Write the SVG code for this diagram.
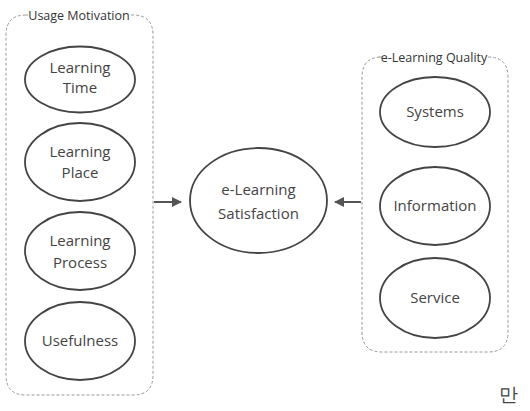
<svg xmlns="http://www.w3.org/2000/svg" width="530" height="411" viewBox="0 0 530 411">
  <defs>
    <marker id="arrow" viewBox="0 0 10 10" refX="9" refY="5" markerWidth="5" markerHeight="5" orient="auto">
      <path d="M0,0 L10,5 L0,10 z" fill="#555"/>
    </marker>
    <style>
      .group { fill: none; stroke: #9a9a9a; stroke-width: 1; stroke-dasharray: 3 2; }
      .node ellipse { fill: #fff; stroke: #444; stroke-width: 1.8; }
      text { font-family: "Open Sans", "Noto Sans", sans-serif; fill: #444; text-anchor: middle; }
      .label { font-size: 15px; }
      .title { font-size: 12.5px; fill: #333; }
      .edge { stroke: #555; stroke-width: 2; fill: none; marker-end: url(#arrow); }
    </style>
  </defs>
  <rect width="530" height="411" fill="#fff"/>

  <!-- group frames, dashed line broken behind the title -->
  <g id="usage-motivation">
    <path class="group" d="M26,15 H28 M131,15 H133 Q153,15 153,35 V375 Q153,395 133,395 H26 Q6,395 6,375 V35 Q6,15 26,15"/>
    <text class="title" x="79" y="20">Usage Motivation</text>
  </g>
  <g id="elearning-quality">
    <path class="group" d="M488,57 H488 Q508,57 508,77 V332 Q508,352 488,352 H382 Q362,352 362,332 V77 Q362,57 382,57 H379"/>
    <text class="title" x="434" y="62">e-Learning Quality</text>
  </g>

  <!-- nodes -->
  <g id="learning-time" class="node">
    <ellipse cx="80" cy="79.5" rx="55" ry="33"/>
    <text class="label" x="80" y="73">Learning</text>
    <text class="label" x="80" y="93">Time</text>
  </g>
  <g id="learning-place" class="node">
    <ellipse cx="80" cy="162" rx="55" ry="39"/>
    <text class="label" x="80" y="157">Learning</text>
    <text class="label" x="80" y="178">Place</text>
  </g>
  <g id="learning-process" class="node">
    <ellipse cx="80" cy="251" rx="55" ry="39"/>
    <text class="label" x="80" y="246">Learning</text>
    <text class="label" x="80" y="268">Process</text>
  </g>
  <g id="usefulness" class="node">
    <ellipse cx="80" cy="341" rx="55" ry="39"/>
    <text class="label" x="80" y="346">Usefulness</text>
  </g>
  <g id="elearning-satisfaction" class="node">
    <ellipse cx="258.5" cy="200.5" rx="68.5" ry="52.5"/>
    <text class="label" x="258.5" y="195">e-Learning</text>
    <text class="label" x="258.5" y="219">Satisfaction</text>
  </g>
  <g id="systems" class="node">
    <ellipse cx="435" cy="112" rx="55" ry="35"/>
    <text class="label" x="435" y="117">Systems</text>
  </g>
  <g id="information" class="node">
    <ellipse cx="435" cy="206" rx="55" ry="39"/>
    <text class="label" x="435" y="211">Information</text>
  </g>
  <g id="service" class="node">
    <ellipse cx="435" cy="298" rx="55" ry="40"/>
    <text class="label" x="435" y="303">Service</text>
  </g>

  <!-- connectors -->
  <g id="connectors">
    <line class="edge" x1="154" y1="202" x2="181" y2="202"/>
    <line class="edge" x1="361" y1="202" x2="335" y2="202"/>
  </g>

  <text x="508" y="401" font-family="Noto Sans CJK KR, sans-serif" font-size="19" fill="#222" text-anchor="start">만</text>
</svg>
